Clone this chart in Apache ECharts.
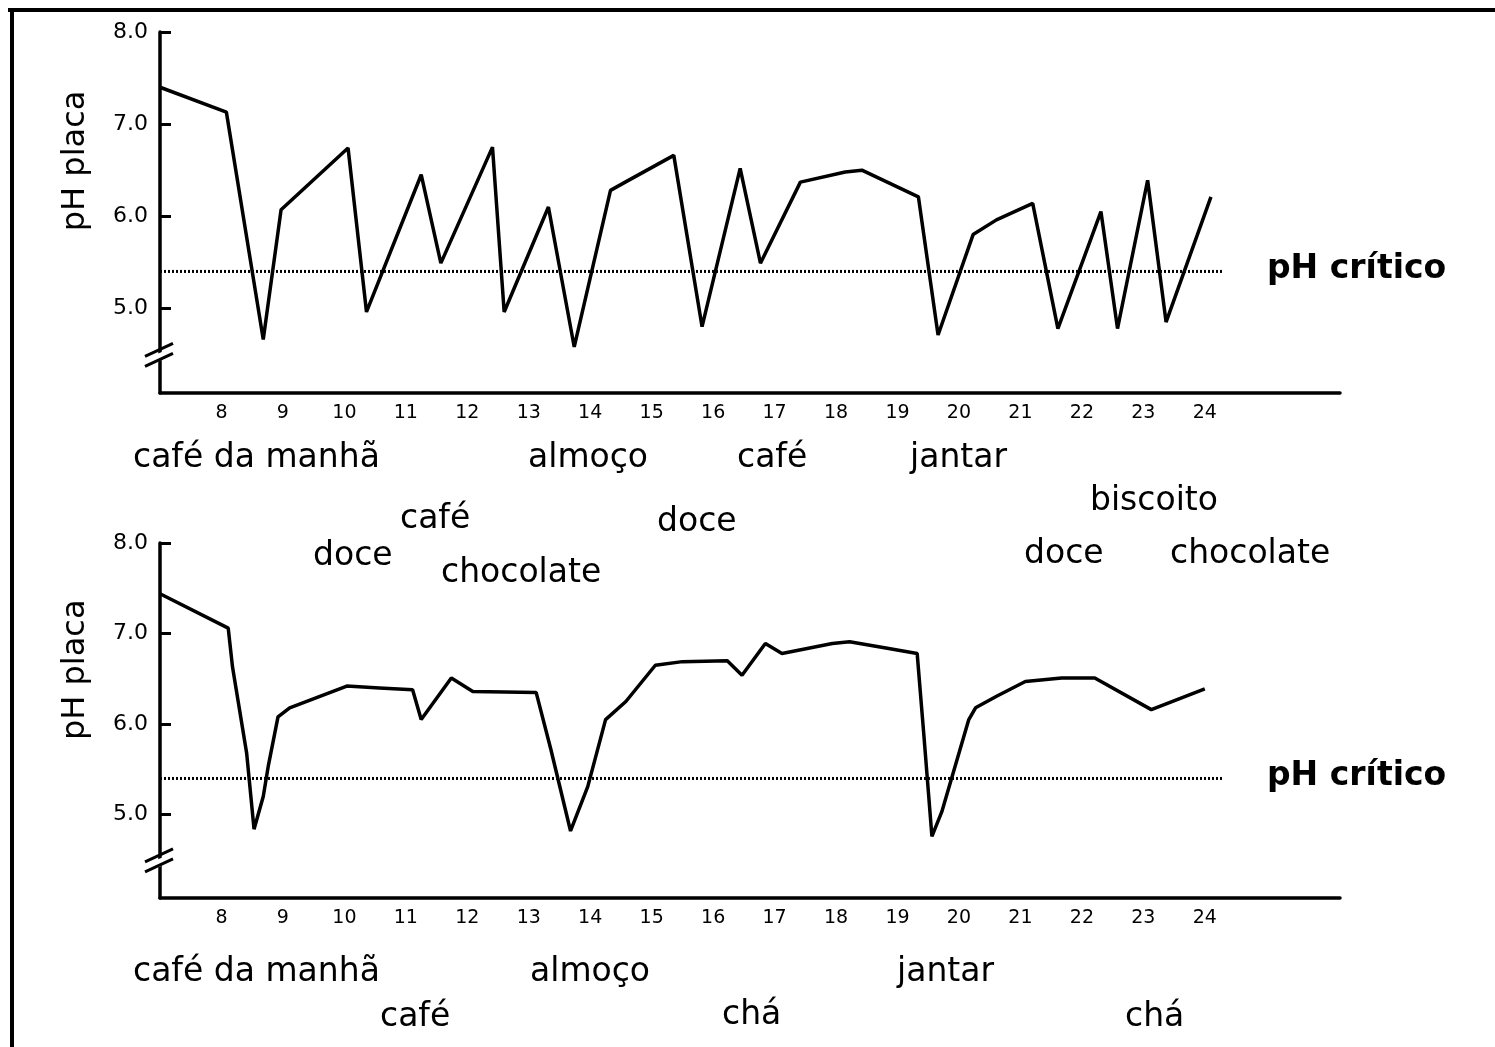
<!DOCTYPE html>
<html>
<head>
<meta charset="utf-8">
<script src="https://cdn.jsdelivr.net/npm/echarts@6/dist/echarts.min.js"></script>
<style>
html,body{margin:0;padding:0;background:#fff;}
#c{width:1495px;height:1047px;}
</style>
</head>
<body>
<div id="c"></div>
<script>
// ---------- DATA ----------
const hourTicks = [8, 9, 10, 11, 12, 13, 14, 15, 16, 17, 18, 19, 20, 21, 22, 23, 24];
const phTicks = [5, 6, 7, 8];
const criticalPH = 5.4;
const criticalHours = [7, 24.3];

// Upper chart: frequent snacking
const topHours = [7.0, 8.08, 8.68, 8.97, 10.06, 10.36, 11.25, 11.57, 12.41, 12.6, 13.32, 13.74, 14.33, 14.57, 15.36, 15.82, 16.44, 16.77, 17.42, 18.15, 18.42, 19.34, 19.66, 20.23, 20.61, 21.2, 21.61, 22.31, 22.58, 23.07, 23.37, 24.1];
const topPH    = [7.40, 7.13, 4.66, 6.07, 6.74, 4.96, 6.45, 5.49, 6.75, 4.96, 6.10, 4.58, 6.28, 6.37, 6.66, 4.80, 6.52, 5.49, 6.37, 6.48, 6.50, 6.21, 4.71, 5.80, 5.96, 6.14, 4.78, 6.05, 4.78, 6.39, 4.85, 6.21];

// Lower chart: meals only
const bottomHours = [7.0, 8.11, 8.18, 8.41, 8.53, 8.68, 8.76, 8.92, 9.11, 10.04, 10.57, 11.11, 11.25, 11.74, 12.09, 13.12, 13.36, 13.68, 13.96, 14.25, 14.58, 15.06, 15.5, 16.23, 16.47, 16.85, 17.12, 17.94, 18.22, 18.81, 19.32, 19.43, 19.56, 19.72, 20.16, 20.27, 20.62, 21.08, 21.67, 22.21, 23.13, 24.0];
const bottomPH    = [7.44, 7.06, 6.63, 5.68, 4.84, 5.20, 5.53, 6.08, 6.18, 6.42, 6.40, 6.38, 6.05, 6.51, 6.36, 6.35, 5.72, 4.82, 5.31, 6.05, 6.25, 6.65, 6.69, 6.70, 6.54, 6.89, 6.78, 6.89, 6.91, 6.84, 6.78, 5.87, 4.76, 5.03, 6.05, 6.18, 6.31, 6.47, 6.51, 6.51, 6.16, 6.39];

// Annotation texts
const topLabels = ['café da manhã', 'almoço', 'café', 'jantar', 'café', 'doce', 'biscoito', 'doce', 'chocolate', 'doce', 'chocolate'];
const bottomLabels = ['café da manhã', 'almoço', 'jantar', 'café', 'chá', 'chá'];
const yName = 'pH placa';
const critName = 'pH crítico';

// ---------- LAYOUT (pixel positions of annotation texts) ----------
const topLabelPos = [[133,458],[528,458],[737,458],[910,458],[400,519],[657,522],[1090,501],[313,556],[441,573],[1024,554],[1170,554]];
const bottomLabelPos = [[133,972],[530,972],[897,972],[380,1017],[722,1015],[1125,1017]];

const FONT = 'DejaVu Sans';
const chart = echarts.init(document.getElementById('c'), null, {renderer:'canvas'});

function pairs(xs, ys){ return xs.map((x,i)=>[x, ys[i]]); }

function xAxis(gi){
  return {
    type:'value', gridIndex:gi, min:7, max:26.2,
    axisLine:{show:true, onZero:false, lineStyle:{color:'#000', width:3.5}},
    axisTick:{show:false},
    splitLine:{show:false},
    axisLabel:{customValues:hourTicks, color:'#000', fontFamily:FONT, fontSize:19, margin:11}
  };
}
function yAxis(gi){
  return {
    type:'value', gridIndex:gi, min:4.08, max:8,
    axisLine:{show:true, onZero:false, lineStyle:{color:'#000', width:3.5}},
    axisTick:{show:true, inside:true, length:11, customValues:phTicks, lineStyle:{color:'#000', width:3}},
    splitLine:{show:false},
    axisLabel:{customValues:phTicks, formatter:v=>Number(v).toFixed(1), color:'#000', fontFamily:FONT, fontSize:22, margin:12}
  };
}

const critStyle = {color:'#000', width:3, type:[2,2]};

const option = {
  backgroundColor:'#fff',
  animation:false,
  grid:[
    {left:160, top:32, width:1180, height:361},
    {left:160, top:543, width:1180, height:355}
  ],
  xAxis:[xAxis(0), xAxis(1)],
  yAxis:[yAxis(0), yAxis(1)],
  series:[
    {type:'line', name:'crit-top', xAxisIndex:0, yAxisIndex:0, data:criticalHours.map(h=>[h, criticalPH]), symbol:'none', lineStyle:critStyle, z:2, silent:true},
    {type:'line', name:'crit-bottom', xAxisIndex:1, yAxisIndex:1, data:criticalHours.map(h=>[h, criticalPH]), symbol:'none', lineStyle:critStyle, z:2, silent:true},
    {type:'line', name:'top', xAxisIndex:0, yAxisIndex:0, data:pairs(topHours, topPH), symbol:'none', lineStyle:{color:'#000', width:3.5}, z:3},
    {type:'line', name:'bottom', xAxisIndex:1, yAxisIndex:1, data:pairs(bottomHours, bottomPH), symbol:'none', lineStyle:{color:'#000', width:3.5}, z:3}
  ]
};
chart.setOption(option);

// ---------- decorations ----------
const g = [];
// outer frame (left and top edges)
g.push({type:'line', shape:{x1:12, y1:8, x2:12, y2:1047}, style:{stroke:'#000', lineWidth:4}});
g.push({type:'line', shape:{x1:8, y1:10, x2:1495, y2:10}, style:{stroke:'#000', lineWidth:4}});

function textEl(t, x, y){
  return {type:'text', x:x, y:y, style:{text:t, fill:'#000', font:'33px "' + FONT + '"', textAlign:'left', textVerticalAlign:'middle'}};
}
topLabels.forEach((t,i)=>g.push(textEl(t, topLabelPos[i][0], topLabelPos[i][1])));
bottomLabels.forEach((t,i)=>g.push(textEl(t, bottomLabelPos[i][0], bottomLabelPos[i][1])));

// critical pH labels, y axis names and axis breaks, placed relative to the axes
[0,1].forEach(gi=>{
  const pc = chart.convertToPixel({gridIndex:gi}, [24.3, criticalPH]);
  g.push({type:'text', x:1267, y:pc[1]-2, style:{text:critName, fill:'#000', font:'bold 33px "' + FONT + '"', textAlign:'left', textVerticalAlign:'middle'}});
  const pn = chart.convertToPixel({gridIndex:gi}, [7, 6.6]);
  g.push({type:'text', x:76, y:pn[1], rotation:Math.PI/2, style:{text:yName, fill:'#000', font:'32px "' + FONT + '"', textAlign:'center', textVerticalAlign:'middle'}});
  const pb = chart.convertToPixel({gridIndex:gi}, [7, 4.5]);
  const bx = pb[0], by = pb[1];
  g.push({type:'polygon', shape:{points:[[bx-6,by+1],[bx+6,by-4],[bx+6,by+4],[bx-6,by+9]]}, style:{fill:'#fff'}, z:10});
  g.push({type:'line', shape:{x1:bx-15, y1:by+2, x2:bx+13, y2:by-11}, style:{stroke:'#000', lineWidth:3}, z:11});
  g.push({type:'line', shape:{x1:bx-15, y1:by+12, x2:bx+13, y2:by-1}, style:{stroke:'#000', lineWidth:3}, z:11});
});

chart.setOption({graphic:g});
</script>
</body>
</html>
